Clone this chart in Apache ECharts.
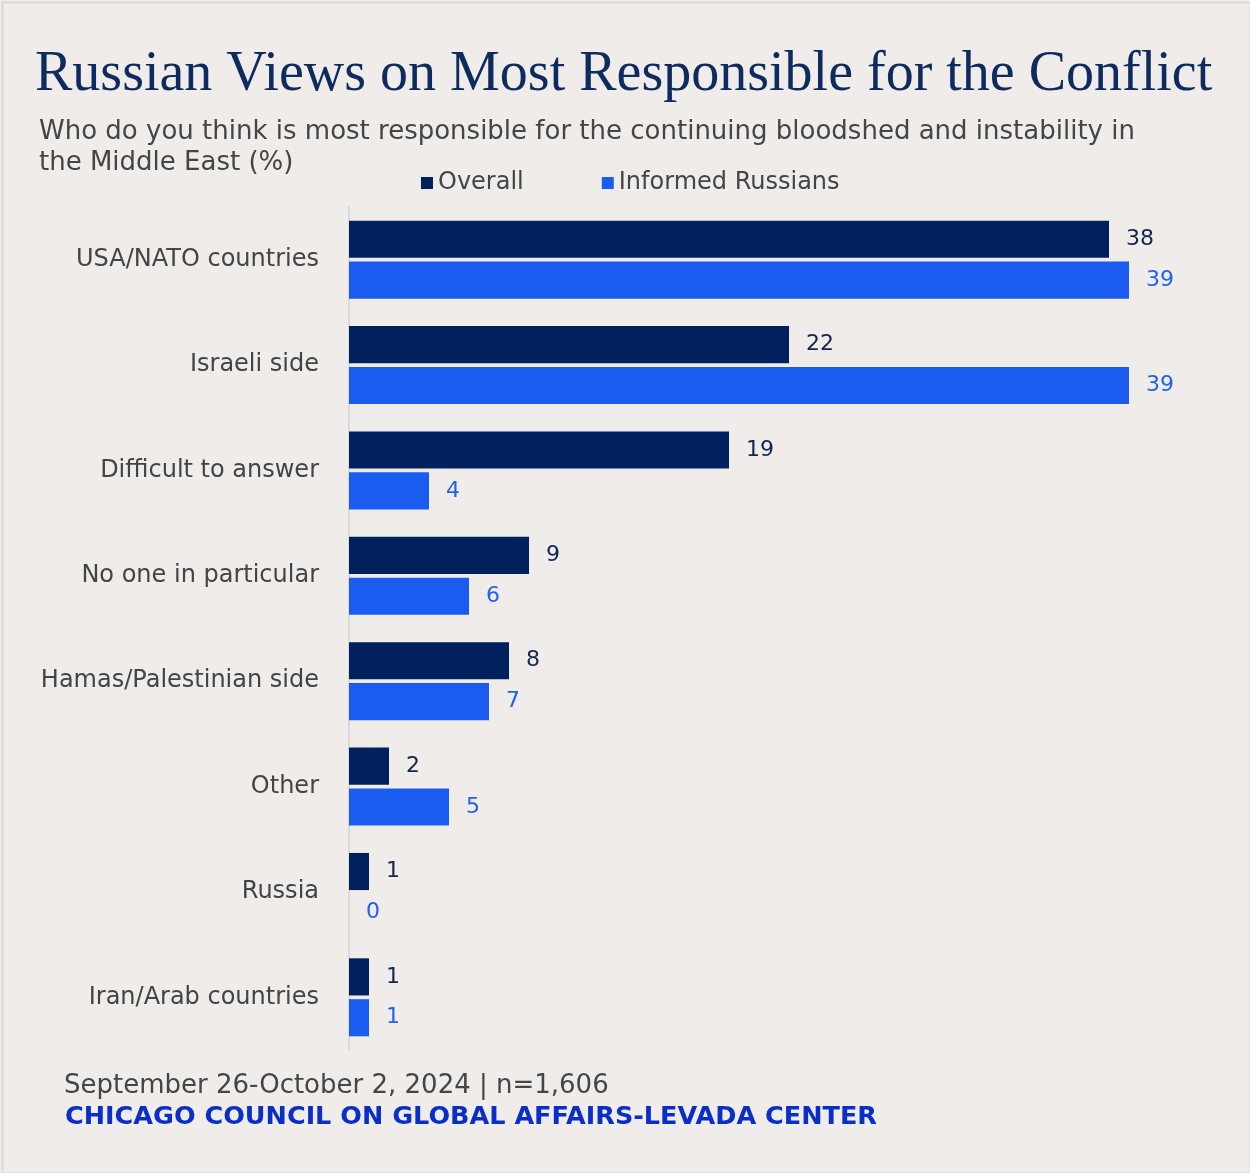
<!DOCTYPE html>
<html>
<head>
<meta charset="utf-8">
<script src="https://cdn.jsdelivr.net/npm/echarts@6/dist/echarts.min.js"></script>
<style>
  html, body { margin: 0; padding: 0; background: #efecea; }
  #chart { width: 1250px; height: 1173px; }
</style>
</head>
<body>
<div id="chart"></div>
<script>
// Survey responses: who is most responsible for the conflict (%)
const categories = [
  'USA/NATO countries',
  'Israeli side',
  'Difficult to answer',
  'No one in particular',
  'Hamas/Palestinian side',
  'Other',
  'Russia',
  'Iran/Arab countries'
];
const overall = [38, 22, 19, 9, 8, 2, 1, 1];
const informed = [39, 39, 4, 6, 7, 5, 0, 1];
const seriesNames = ['Overall', 'Informed Russians'];

const NAVY = '#01205e';
const BLUE = '#1a5cf0';
const FONT = '"DejaVu Sans", "Noto Sans", sans-serif';

const chart = echarts.init(document.getElementById('chart'), null, { renderer: 'canvas' });

chart.setOption({
  backgroundColor: '#efecea',
  animation: false,
  textStyle: { fontFamily: FONT },
  graphic: [
    {
      type: 'rect', left: 0, top: 0, silent: true,
      shape: { x: 1, y: 1, width: 1248, height: 1171 },
      style: { fill: 'none', stroke: '#d9d9d9', lineWidth: 2 }
    }
  ],
  title: [
    {
      text: 'Russian Views on Most Responsible for the Conflict',
      left: 30, top: 42,
      textStyle: { fontFamily: '"Liberation Serif", "DejaVu Serif", serif', fontSize: 56, fontWeight: 'normal', color: '#0d2b5e' }
    },
    {
      text: 'Who do you think is most responsible for the continuing bloodshed and instability in\nthe Middle East (%)',
      left: 34, top: 112,
      textStyle: { fontFamily: FONT, fontSize: 26, fontWeight: 'normal', color: '#454545', lineHeight: 31 }
    },
    {
      text: 'September 26-October 2, 2024 | n=1,606',
      left: 59, top: 1068,
      textStyle: { fontFamily: FONT, fontSize: 26, fontWeight: 'normal', color: '#454545' }
    },
    {
      text: 'CHICAGO COUNCIL ON GLOBAL AFFAIRS-LEVADA CENTER',
      left: 60, top: 1099,
      textStyle: { fontFamily: FONT, fontSize: 25.5, fontWeight: 'bold', color: '#0a2fc9' }
    }
  ],
  legend: {
    left: 416, top: 166,
    icon: 'rect', itemWidth: 12, itemHeight: 12, itemGap: 78,
    textStyle: { fontFamily: FONT, fontSize: 24, color: '#454545' },
    data: seriesNames
  },
  grid: { left: 349, right: 1, top: 207, bottom: 123, containLabel: false },
  xAxis: {
    type: 'value', min: 0, max: 45,
    show: false
  },
  yAxis: {
    type: 'category', inverse: true, data: categories,
    axisLine: { show: true, lineStyle: { color: '#dadada', width: 2 } },
    axisTick: { show: false },
    axisLabel: { margin: 30, fontFamily: FONT, fontSize: 24, color: '#444444' }
  },
  series: [
    {
      name: seriesNames[0], type: 'bar', data: overall,
      barGap: '10%', barCategoryGap: '26%',
      itemStyle: { color: NAVY },
      label: { show: true, position: 'right', distance: 17, fontFamily: FONT, fontSize: 22, color: '#13244f' }
    },
    {
      name: seriesNames[1], type: 'bar', data: informed,
      itemStyle: { color: BLUE },
      label: { show: true, position: 'right', distance: 17, fontFamily: FONT, fontSize: 22, color: '#2062ea' }
    }
  ]
});
</script>
</body>
</html>
